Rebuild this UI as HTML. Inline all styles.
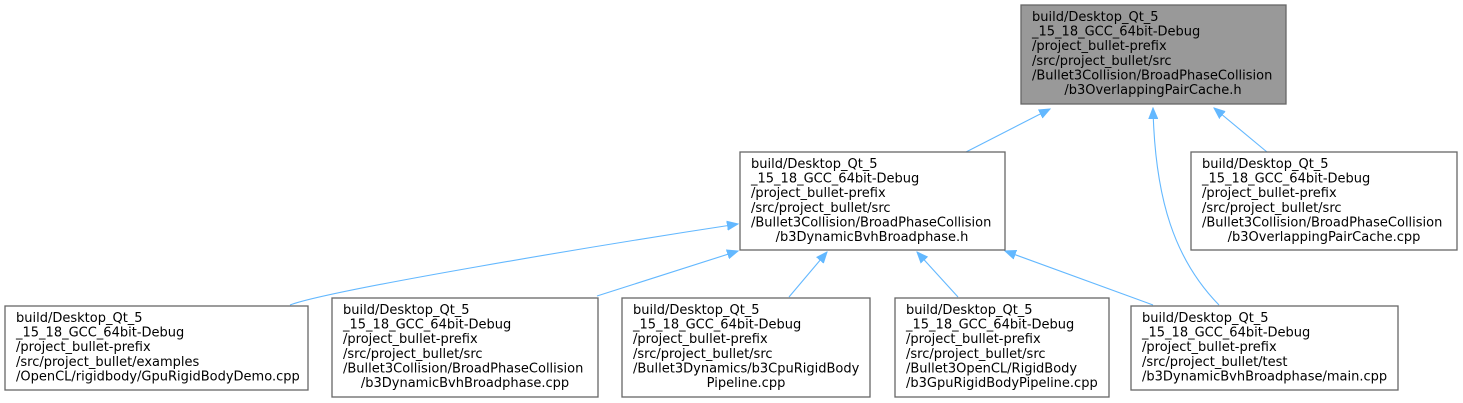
<!DOCTYPE html>
<html><head><meta charset="utf-8"><style>
html,body{margin:0;padding:0;background:#fff;}
svg{display:block;}
text{font-family:"DejaVu Sans","Liberation Sans",sans-serif;font-size:13px;fill:#000;}
.b{fill:#fff;stroke:#666;stroke-width:1.3;}
.g{fill:#999;stroke:#666;stroke-width:1.3;}
.e{fill:none;stroke:#63b8ff;stroke-width:1.1;}
.a{fill:#63b8ff;stroke:#63b8ff;}
</style></head><body>
<svg width="1463" height="403" viewBox="0 0 1463 403">
<defs>
<marker id="m" markerWidth="12" markerHeight="10" refX="11" refY="5" orient="auto" markerUnits="userSpaceOnUse">
<path d="M0,0.5 L11,5 L0,9.5 Z" class="a"/>
</marker>
</defs>
<path class="e" marker-end="url(#m)" d="M966,152 L1050,109"/>
<path class="e" marker-end="url(#m)" d="M1267,152 L1214,108"/>
<path class="e" marker-end="url(#m)" d="M1219,305 C1175,260 1155,200 1153,108"/>
<path class="e" marker-end="url(#m)" d="M290,305 C330,290 600,245 738,224"/>
<path class="e" marker-end="url(#m)" d="M597,296 L738,251"/>
<path class="e" marker-end="url(#m)" d="M789,297 L827,252"/>
<path class="e" marker-end="url(#m)" d="M958,297 L917,252"/>
<path class="e" marker-end="url(#m)" d="M1153,305 L1005,251"/>
<rect class="g" x="1021" y="5" width="265" height="99"/>
<text x="1032" y="21">build/Desktop_Qt_5</text>
<text x="1032" y="35.6">_15_18_GCC_64bit-Debug</text>
<text x="1032" y="50.2">/project_bullet-prefix</text>
<text x="1032" y="64.8">/src/project_bullet/src</text>
<text x="1032" y="79.4">/Bullet3Collision/BroadPhaseCollision</text>
<text x="1153" y="94" text-anchor="middle">/b3OverlappingPairCache.h</text>
<rect class="b" x="740" y="152" width="265" height="98"/>
<text x="751" y="168">build/Desktop_Qt_5</text>
<text x="751" y="182.6">_15_18_GCC_64bit-Debug</text>
<text x="751" y="197.2">/project_bullet-prefix</text>
<text x="751" y="211.8">/src/project_bullet/src</text>
<text x="751" y="226.4">/Bullet3Collision/BroadPhaseCollision</text>
<text x="872" y="241" text-anchor="middle">/b3DynamicBvhBroadphase.h</text>
<rect class="b" x="1191" y="152" width="266" height="98"/>
<text x="1202" y="168">build/Desktop_Qt_5</text>
<text x="1202" y="182.6">_15_18_GCC_64bit-Debug</text>
<text x="1202" y="197.2">/project_bullet-prefix</text>
<text x="1202" y="211.8">/src/project_bullet/src</text>
<text x="1202" y="226.4">/Bullet3Collision/BroadPhaseCollision</text>
<text x="1324" y="241" text-anchor="middle">/b3OverlappingPairCache.cpp</text>
<rect class="b" x="5" y="306" width="303" height="84"/>
<text x="16" y="322">build/Desktop_Qt_5</text>
<text x="16" y="336.6">_15_18_GCC_64bit-Debug</text>
<text x="16" y="351.2">/project_bullet-prefix</text>
<text x="16" y="365.8">/src/project_bullet/examples</text>
<text x="16" y="380.4">/OpenCL/rigidbody/GpuRigidBodyDemo.cpp</text>
<rect class="b" x="332" y="298" width="266" height="99"/>
<text x="343" y="314">build/Desktop_Qt_5</text>
<text x="343" y="328.6">_15_18_GCC_64bit-Debug</text>
<text x="343" y="343.2">/project_bullet-prefix</text>
<text x="343" y="357.8">/src/project_bullet/src</text>
<text x="343" y="372.4">/Bullet3Collision/BroadPhaseCollision</text>
<text x="465" y="387" text-anchor="middle">/b3DynamicBvhBroadphase.cpp</text>
<rect class="b" x="622" y="298" width="248" height="99"/>
<text x="633" y="314">build/Desktop_Qt_5</text>
<text x="633" y="328.6">_15_18_GCC_64bit-Debug</text>
<text x="633" y="343.2">/project_bullet-prefix</text>
<text x="633" y="357.8">/src/project_bullet/src</text>
<text x="633" y="372.4">/Bullet3Dynamics/b3CpuRigidBody</text>
<text x="746" y="387" text-anchor="middle">Pipeline.cpp</text>
<rect class="b" x="895" y="298" width="214" height="99"/>
<text x="906" y="314">build/Desktop_Qt_5</text>
<text x="906" y="328.6">_15_18_GCC_64bit-Debug</text>
<text x="906" y="343.2">/project_bullet-prefix</text>
<text x="906" y="357.8">/src/project_bullet/src</text>
<text x="906" y="372.4">/Bullet3OpenCL/RigidBody</text>
<text x="906" y="387">/b3GpuRigidBodyPipeline.cpp</text>
<rect class="b" x="1131" y="306" width="267" height="84"/>
<text x="1142" y="322">build/Desktop_Qt_5</text>
<text x="1142" y="336.6">_15_18_GCC_64bit-Debug</text>
<text x="1142" y="351.2">/project_bullet-prefix</text>
<text x="1142" y="365.8">/src/project_bullet/test</text>
<text x="1142" y="380.4">/b3DynamicBvhBroadphase/main.cpp</text>
</svg>
</body></html>
